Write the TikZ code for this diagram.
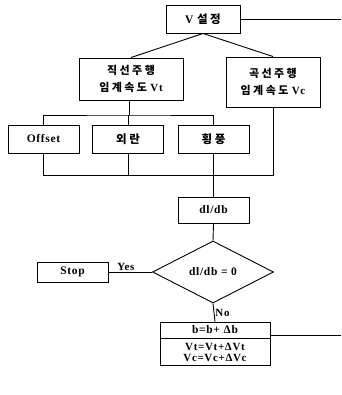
\documentclass[tikz,border=0pt]{standalone}
\usepackage{fontspec}
\setmainfont{Liberation Serif}[LetterSpace=6]
\newfontfamily\kr{Noto Sans CJK KR}[LetterSpace=22]
\usetikzlibrary{shapes.geometric}
\begin{document}
\begin{tikzpicture}[x=1pt,y=-1pt,
  line width=0.9pt,
  bx/.style={draw, rectangle, inner sep=0pt, align=center, font=\fontsize{11.5}{13}\selectfont\bfseries},
  lbl/.style={font=\fontsize{11}{12}\selectfont\bfseries, inner sep=1pt}]
\useasboundingbox (0,0) rectangle (341,395);
\node[bx, minimum width=74pt, minimum height=28pt] (V) at (203,19) {V {\kr 설정}};
\node[bx, minimum width=104pt, minimum height=42pt, font=\fontsize{11}{17}\selectfont\bfseries] (A) at (131,79) {{\kr 직선주행}\\{\kr 임계속도} Vt};
\node[bx, minimum width=94pt, minimum height=50pt, font=\fontsize{11}{17}\selectfont\bfseries] (B) at (273,82) {{\kr 곡선주행}\\{\kr 임계속도} Vc};
\node[bx, minimum width=71pt, minimum height=28pt] (O) at (43.5,139) {Offset};
\node[bx, minimum width=71pt, minimum height=28pt] (W) at (128,139) {{\kr 외란}};
\node[bx, minimum width=71pt, minimum height=28pt] (H) at (213.5,139) {{\kr 횡풍}};
\node[bx, minimum width=71pt, minimum height=26pt] (D) at (213.5,210) {dl/db};
\node[draw, diamond, aspect=2, minimum width=121pt, minimum height=62pt, inner sep=0pt, font=\fontsize{11.5}{13}\selectfont\bfseries] (Q) at (213,272) {dl/db = 0};
\node[bx, minimum width=71pt, minimum height=20pt] (S) at (72.5,272) {Stop};
\node[bx, minimum width=110pt, minimum height=16pt] (U1) at (215,330) {b=b+ Δb};
\node[bx, minimum width=110pt, minimum height=27pt, font=\fontsize{11}{11.5}\selectfont\bfseries, anchor=north] (U2) at (U1.south) {Vt=Vt+ΔVt\\Vc=Vc+ΔVc};
\coordinate (R1) at (341,19);
\coordinate (R2) at (341,335);
\coordinate (J1) at (129,115);
\coordinate (J2) at (213,175);
% connectors
\draw (V.east) -- (R1);
\draw (V.south) -- (A.north);
\draw (V.south) -- (B.north);
\draw (A.south -| J1) -- (J1);
\draw (O.north) |- (J1) -| (H.north);
\draw (W.north) -- (W.north |- J1);
\draw (O.south) |- (J2);
\draw (W.south) -- (W.south |- J2);
\draw (H.south) -- (H.south |- J2);
\draw (B.south) |- (J2);
\draw (D.north -| J2) -- (J2);
\draw (D.south) -- (Q.north);
\draw (Q.west) -- node[lbl, above, pos=0.6] {Yes} (S.east);
\draw (Q.south) -- node[lbl, right, pos=0.5] {No} (U1.north);
\draw (U2.east |- R2) -- (R2);
\end{tikzpicture}
\end{document}
